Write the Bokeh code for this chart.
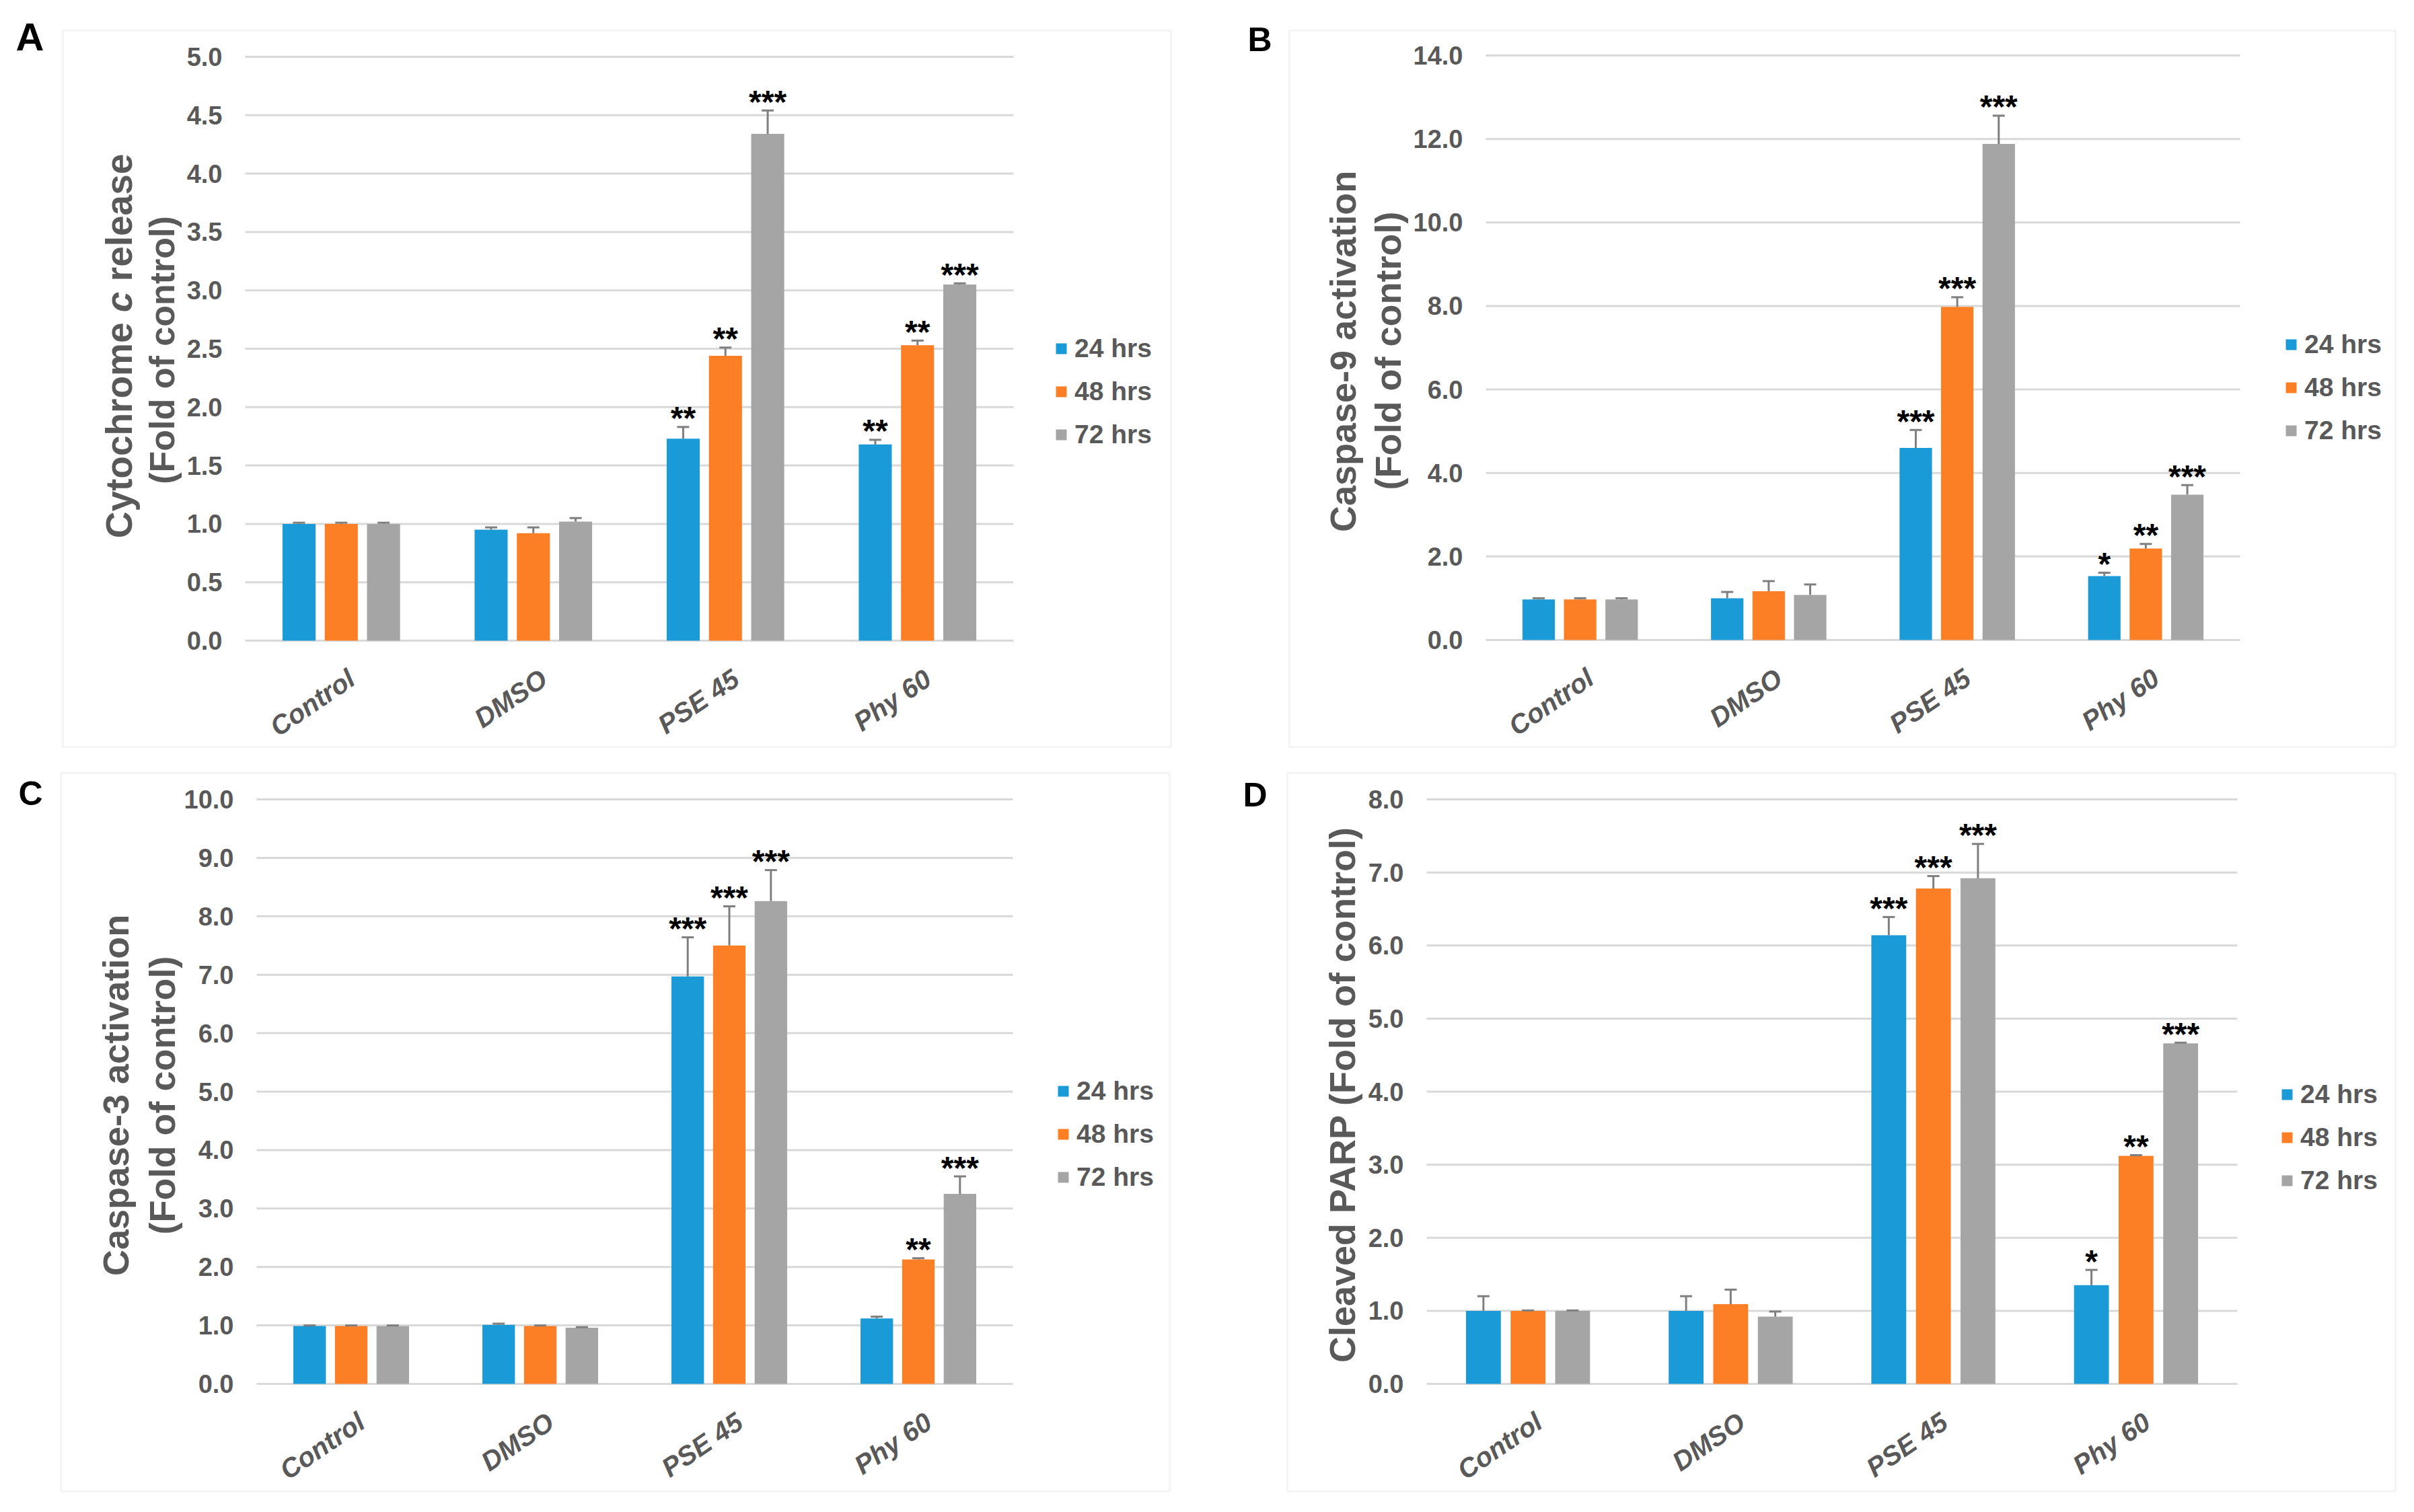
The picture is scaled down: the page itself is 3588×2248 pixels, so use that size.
import math
from bokeh.plotting import figure
from bokeh.models import (ColumnDataSource, Range1d, FixedTicker, LinearAxis,
                          PrintfTickFormatter, Label, BoxAnnotation, Legend, LegendItem)
from bokeh.layouts import column, row
from bokeh.core.properties import value
from bokeh.embed import file_html
from bokeh.resources import INLINE

# ---------------- data ----------------
categories = ["Control", "DMSO", "PSE 45", "Phy 60"]
series_names = ["24 hrs", "48 hrs", "72 hrs"]
series_colors = ["#1A9AD6", "#FD7F25", "#A5A5A5"]

# Panel A: Cytochrome c release
a_24 = [1.00, 0.95, 1.73, 1.68]
a_48 = [1.00, 0.92, 2.44, 2.53]
a_72 = [1.00, 1.02, 4.34, 3.05]
a_24_err = [0.01, 0.02, 0.10, 0.04]
a_48_err = [0.01, 0.05, 0.07, 0.04]
a_72_err = [0.01, 0.03, 0.20, 0.01]
a_24_sig = ["", "", "**", "**"]
a_48_sig = ["", "", "**", "**"]
a_72_sig = ["", "", "***", "***"]

# Panel B: Caspase-9 activation
b_24 = [0.97, 1.00, 4.60, 1.53]
b_48 = [0.97, 1.17, 7.98, 2.19]
b_72 = [0.97, 1.08, 11.88, 3.48]
b_24_err = [0.03, 0.15, 0.43, 0.08]
b_48_err = [0.03, 0.24, 0.23, 0.11]
b_72_err = [0.03, 0.25, 0.68, 0.23]
b_24_sig = ["", "", "***", "*"]
b_48_sig = ["", "", "***", "**"]
b_72_sig = ["", "", "***", "***"]

# Panel C: Caspase-3 activation
c_24 = [0.99, 1.01, 6.97, 1.12]
c_48 = [0.99, 0.99, 7.50, 2.13]
c_72 = [0.99, 0.96, 8.26, 3.25]
c_24_err = [0.01, 0.02, 0.67, 0.03]
c_48_err = [0.01, 0.01, 0.67, 0.02]
c_72_err = [0.01, 0.01, 0.53, 0.30]
c_24_sig = ["", "", "***", ""]
c_48_sig = ["", "", "***", "**"]
c_72_sig = ["", "", "***", "***"]

# Panel D: Cleaved PARP
d_24 = [1.00, 1.00, 6.14, 1.35]
d_48 = [1.00, 1.09, 6.78, 3.12]
d_72 = [1.00, 0.92, 6.92, 4.66]
d_24_err = [0.20, 0.20, 0.25, 0.21]
d_48_err = [0.005, 0.20, 0.17, 0.01]
d_72_err = [0.005, 0.07, 0.47, 0.01]
d_24_sig = ["", "", "***", "*"]
d_48_sig = ["", "", "***", "**"]
d_72_sig = ["", "", "***", "***"]

a_ticks = [0.0, 0.5, 1.0, 1.5, 2.0, 2.5, 3.0, 3.5, 4.0, 4.5, 5.0]
b_ticks = [0.0, 2.0, 4.0, 6.0, 8.0, 10.0, 12.0, 14.0]
c_ticks = [0.0, 1.0, 2.0, 3.0, 4.0, 5.0, 6.0, 7.0, 8.0, 9.0, 10.0]
d_ticks = [0.0, 1.0, 2.0, 3.0, 4.0, 5.0, 6.0, 7.0, 8.0]

# ---------------- styling ----------------
FONT = "Liberation Sans"
GRAY_TXT = "#595959"
GRID = "#D9D9D9"
EBAR = "#7F7F7F"
W, H = 1782, 1112
OFFS = [-0.22, 0.0, 0.22]
BAR_W = 0.172
LABEL_SHIFT = 0.055   # category labels sit slightly right of the group centre

# Arial/Liberation bold advance widths (per 1000 em)
CW = {" ": 278, "(": 333, ")": 333, "-": 333, "C": 722, "F": 611, "P": 667, "A": 722,
      "R": 722, "a": 556, "c": 556, "d": 611, "e": 556, "f": 333, "h": 611, "i": 278,
      "l": 278, "m": 889, "n": 611, "o": 611, "p": 611, "r": 389, "s": 556, "t": 333,
      "v": 556, "y": 556}


def text_w(s, size):
    return sum(CW.get(ch, 556) for ch in s) / 1000.0 * size


def build(spec):
    ticks = spec["ticks"]
    ymax = ticks[-1]
    cl, cr, cy0, cyt = spec["chart"]          # chart area in canvas pixels
    n = len(categories)
    u = (cr - cl) / n
    v = (cy0 - cyt) / ymax
    xr = Range1d(-cl / u, n + (W - cr) / u)
    yr = Range1d(-(H - cy0) / v, ymax + cyt / v)

    p = figure(width=W, height=H, x_range=xr, y_range=yr,
               x_axis_type=None, y_axis_type=None,
               output_backend="svg", toolbar_location=None, min_border=0)
    p.outline_line_color = None
    p.background_fill_color = "white"
    p.border_fill_color = "white"
    p.xgrid.visible = False
    p.ygrid.visible = False

    # horizontal gridlines across the category area
    gsrc = ColumnDataSource(dict(y=ticks, x0=[0] * len(ticks), x1=[n] * len(ticks)))
    p.segment(x0="x0", y0="y", x1="x1", y1="y", source=gsrc,
              line_color=GRID, line_width=3)

    yax = LinearAxis(fixed_location=0, ticker=FixedTicker(ticks=ticks, minor_ticks=[]),
                     formatter=PrintfTickFormatter(format="%.1f"))
    yax.axis_line_color = None
    yax.major_tick_line_color = None
    yax.minor_tick_line_color = None
    yax.major_tick_out = 0
    yax.major_tick_in = 0
    yax.major_label_standoff = 34
    yax.major_label_text_font = FONT
    yax.major_label_text_font_style = "bold"
    yax.major_label_text_font_size = "38px"
    yax.major_label_text_color = GRAY_TXT
    p.add_layout(yax, "left")

    centers = [i + 0.5 for i in range(n)]
    label_pos = [c + LABEL_SHIFT for c in centers]
    xax = LinearAxis(fixed_location=0, ticker=FixedTicker(ticks=label_pos, minor_ticks=[]),
                     major_label_overrides={c: cat for c, cat in zip(label_pos, categories)})
    xax.axis_line_color = None
    xax.major_tick_line_color = None
    xax.minor_tick_line_color = None
    xax.major_tick_out = 0
    xax.major_tick_in = 0
    xax.major_label_orientation = 0.6
    xax.major_label_standoff = 52
    xax.major_label_text_font = FONT
    xax.major_label_text_font_style = "bold italic"
    xax.major_label_text_font_size = "40px"
    xax.major_label_text_color = GRAY_TXT
    p.add_layout(xax, "below")

    items = []
    for i in range(3):
        vals = spec["vals"][i]
        errs = spec["errs"][i]
        xs = [c + OFFS[i] for c in centers]
        src = ColumnDataSource(dict(x=xs, top=vals,
                                    etop=[a + e for a, e in zip(vals, errs)],
                                    sig=spec["sigs"][i]))
        r = p.vbar(x="x", top="top", width=BAR_W, source=src,
                   fill_color=series_colors[i], line_color=None)
        p.segment(x0="x", y0="top", x1="x", y1="etop", source=src,
                  line_color=EBAR, line_width=3)
        p.scatter(x="x", y="etop", marker="dash", size=18, source=src,
                  line_color=EBAR, line_width=3)
        p.text(x="x", y="etop", text="sig", source=src, text_font=value(FONT),
               text_font_style="bold", text_font_size="48px", text_color="black",
               text_align="center", text_baseline="alphabetic", y_offset=-13)
        items.append(LegendItem(label=series_names[i], renderers=[r]))

    lx, ltop = spec["legend"]
    leg_h = 3 * 44 + 2 * 20
    leg = Legend(items=items, location=(lx, H - (ltop + leg_h)), orientation="vertical",
                 glyph_width=20, glyph_height=20, label_standoff=10,
                 label_height=44, spacing=20, padding=0, margin=0,
                 border_line_color=None, background_fill_alpha=0,
                 label_text_font=FONT, label_text_font_style="bold",
                 label_text_font_size="39px", label_text_color=GRAY_TXT)
    p.add_layout(leg, "center")

    # panel frame box (canvas pixels, y measured upward in screen units)
    bl, br, bt, bb = spec["box"]
    p.add_layout(BoxAnnotation(left=bl, right=br, top=H - bt, bottom=H - bb,
                               left_units="screen", right_units="screen",
                               top_units="screen", bottom_units="screen",
                               fill_alpha=0, line_color=GRID, line_width=3))

    # panel letter
    lxp, lyp, lsize = spec["letter_pos"]
    p.add_layout(Label(x=lxp, y=H - lyp, x_units="screen", y_units="screen",
                       text=spec["letter"], text_font=FONT, text_font_style="bold",
                       text_font_size=f"{lsize}px", text_color="black",
                       text_align="left", text_baseline="alphabetic"))

    # rotated y-axis title lines
    for pieces, cx, cy, size in spec["ylabel"]:
        full = "".join(t for t, _ in pieces)
        total = text_w(full, size)
        start = (H - cy) - total / 2.0
        acc = 0.0
        for t, italic in pieces:
            lead = len(t) - len(t.lstrip())
            pos = start + acc + text_w(" " * lead, size)
            p.add_layout(Label(x=cx, y=pos, x_units="screen", y_units="screen",
                               text=t.strip(), angle=math.pi / 2,
                               text_font=FONT,
                               text_font_style="bold italic" if italic else "bold",
                               text_font_size=f"{size}px", text_color=GRAY_TXT,
                               text_align="left", text_baseline="middle"))
            acc += text_w(t, size)
    return p


pA = build(dict(
    vals=[a_24, a_48, a_72], errs=[a_24_err, a_48_err, a_72_err],
    sigs=[a_24_sig, a_48_sig, a_72_sig], ticks=a_ticks,
    chart=(364, 1506, 952, 84), legend=(1567, 496),
    box=(93, 1740, 45, 1110), letter="A", letter_pos=(23, 54, 58),
    ylabel=[([("Cytochrome ", False), ("c", True), (" release", False)], 176, 514, 55),
            ([("(Fold of control)", False)], 240, 520, 52)]))

pB = build(dict(
    vals=[b_24, b_48, b_72], errs=[b_24_err, b_48_err, b_72_err],
    sigs=[b_24_sig, b_48_sig, b_72_sig], ticks=b_ticks,
    chart=(426, 1547, 951, 82), legend=(1613, 490),
    box=(134, 1778, 45, 1110), letter="B", letter_pos=(72, 58, 50),
    ylabel=[([("Caspase-9 activation", False)], 213, 522, 54),
            ([("(Fold of control)", False)], 280, 521, 54)]))

pC = build(dict(
    vals=[c_24, c_48, c_72], errs=[c_24_err, c_48_err, c_72_err],
    sigs=[c_24_sig, c_48_sig, c_72_sig], ticks=c_ticks,
    chart=(381, 1505, 945, 76), legend=(1570, 488),
    box=(90, 1738, 37, 1105), letter="C", letter_pos=(27, 67, 50),
    ylabel=[([("Caspase-3 activation", False)], 171, 516, 54),
            ([("(Fold of control)", False)], 240, 516, 54)]))

pD = build(dict(
    vals=[d_24, d_48, d_72], errs=[d_24_err, d_48_err, d_72_err],
    sigs=[d_24_sig, d_48_sig, d_72_sig], ticks=d_ticks,
    chart=(338, 1543, 945, 76), legend=(1607, 493),
    box=(131, 1778, 37, 1105), letter="D", letter_pos=(65, 69, 50),
    ylabel=[([("Cleaved PARP (Fold of control)", False)], 212, 513, 54)]))

layout = column(row(pA, pB), row(pC, pD))
open("out.html", "w").write(file_html(layout, INLINE))
